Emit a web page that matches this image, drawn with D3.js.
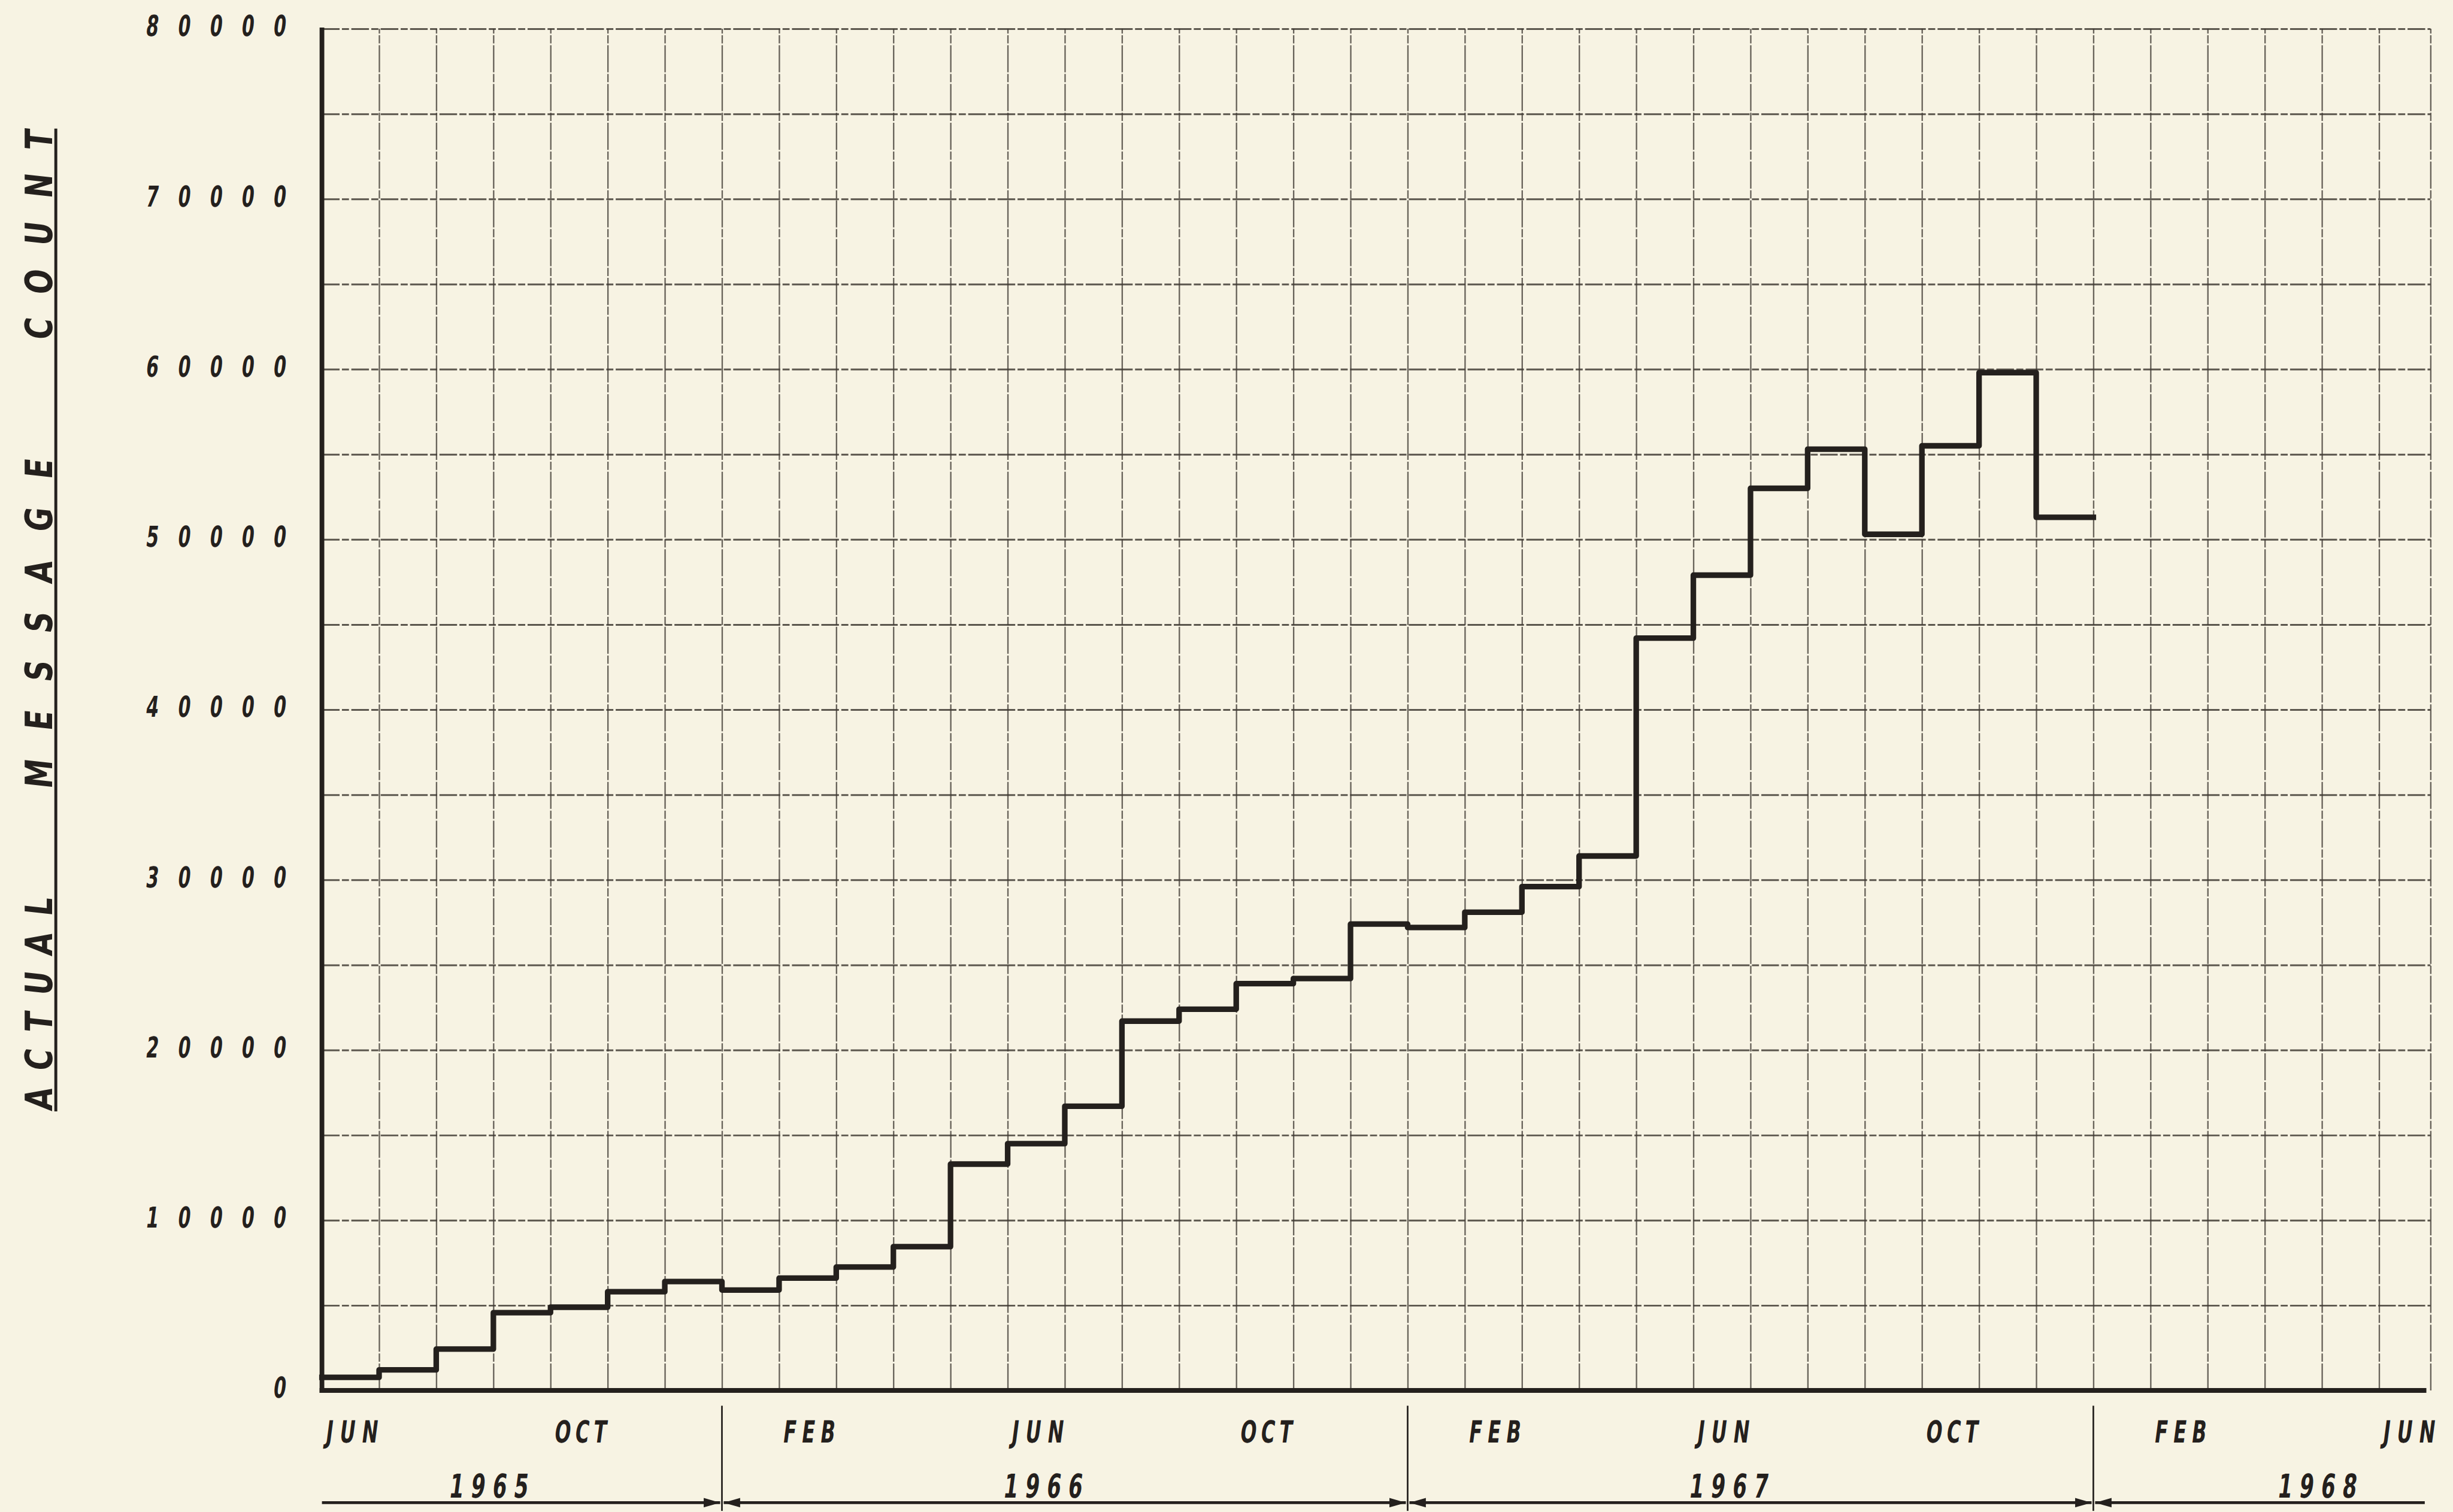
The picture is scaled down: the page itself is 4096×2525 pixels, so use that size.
<!DOCTYPE html>
<html><head><meta charset="utf-8">
<script src="https://cdn.jsdelivr.net/npm/d3@7"></script>
<style>html,body{margin:0;padding:0;background:#f7f3e3;} svg{display:block;}</style>
</head><body>
<svg id="chart" width="4096" height="2525"></svg>
<script>
// ---- data ----
const months = ["Jun 1965","Jul 1965","Aug 1965","Sep 1965","Oct 1965","Nov 1965","Dec 1965",
  "Jan 1966","Feb 1966","Mar 1966","Apr 1966","May 1966","Jun 1966","Jul 1966","Aug 1966","Sep 1966","Oct 1966","Nov 1966","Dec 1966",
  "Jan 1967","Feb 1967","Mar 1967","Apr 1967","May 1967","Jun 1967","Jul 1967","Aug 1967","Sep 1967","Oct 1967","Nov 1967","Dec 1967"];
const messageCounts = [770, 1210, 2430, 4570, 4890, 5800, 6400,
  5900, 6600, 7250, 8450, 13300, 14500, 16700, 21700, 22400, 23900, 24200, 27400,
  27200, 28100, 29600, 31400, 44200, 47900, 53000, 55300, 50300, 55500, 59800, 51300];
const yTickValues = [0, 10000, 20000, 30000, 40000, 50000, 60000, 70000, 80000];
const monthLabels = ["JUN","OCT","FEB","JUN","OCT","FEB","JUN","OCT","FEB","JUN"];
const monthLabelIndex = [0, 4, 8, 12, 16, 20, 24, 28, 32, 36];
const yearLabels = ["1965","1966","1967","1968"];
const yearStartMonth = [0, 7, 19, 31];
const yearLabelMonth = [2.9, 12.6, 24.6, 34.9];
const titleWords = ["ACTUAL","MESSAGE","COUNT"];

// ---- layout ----
const svg = d3.select("#chart");
const root = svg.append("g").attr("transform","scale(0.981)");
root.append("rect").attr("width",4173).attr("height",2572).attr("fill","#f7f3e3");

const x = d3.scaleLinear().domain([0, 36.9]).range([548, 4137]);
const y = d3.scaleLinear().domain([0, 80000]).range([2367, 49]);
const ink = "#24201d";
const gridInk = "#403a33";
const FONT = "'DejaVu Sans', 'Liberation Sans', sans-serif";

// horizontal grid
const hg = root.append("g").attr("transform",`translate(${x(0)},0)`)
  .call(d3.axisLeft(y).tickValues(d3.range(5000, 80001, 5000))
    .tickSize(-(x(x.domain()[1]) - x(0))).tickFormat(""));
hg.select(".domain").remove();
hg.selectAll(".tick line").attr("stroke",gridInk).attr("stroke-width",3)
  .attr("stroke-opacity",0.85).attr("stroke-dasharray","30 4 12 4");

// vertical grid (months)
const vg = root.append("g").attr("transform",`translate(0,${y(0)})`)
  .call(d3.axisBottom(x).tickValues(d3.range(1, 37).concat([x.domain()[1]]))
    .tickSize(-(y(0) - y(80000))).tickFormat(""));
vg.select(".domain").remove();
vg.selectAll(".tick line").attr("stroke",gridInk).attr("stroke-width",2.4)
  .attr("stroke-opacity",0.78).attr("stroke-dasharray","46 3 14 3");

// thick axes
root.append("line").attr("x1",x(0)).attr("x2",x(0)).attr("y1",y(80000)-2).attr("y2",y(0)+4)
  .attr("stroke",ink).attr("stroke-width",8);
root.append("line").attr("x1",x(0)-4).attr("x2",4130).attr("y1",y(0)).attr("y2",y(0))
  .attr("stroke",ink).attr("stroke-width",8);

// step line
const pts = messageCounts.map((v,i)=>[i,v]);
pts.push([messageCounts.length, messageCounts[messageCounts.length-1]]);
const stepLine = d3.line().x(d=>x(d[0])).y(d=>y(d[1])).curve(d3.curveStepAfter);
root.append("path").attr("d",stepLine(pts)).attr("fill","none")
  .attr("stroke",ink).attr("stroke-width",9.5).attr("stroke-linejoin","round").attr("stroke-linecap","square");

// y tick labels
const yl = root.append("g").attr("transform",`translate(${x(0)},0)`)
  .call(d3.axisLeft(y).tickValues(yTickValues).tickSize(0).tickFormat(d3.format("d")));
yl.select(".domain").remove();
const ySx = 0.62;
yl.selectAll(".tick text")
  .attr("x",null).attr("dy",null)
  .attr("transform","translate(-63,12) scale(" + ySx + ",1) skewX(-12)")
  .attr("text-anchor","end")
  .attr("font-size",49).attr("font-weight","bold").attr("font-family",FONT).attr("fill",ink)
  .each(function(d){
    const s = String(d);
    if (s.length > 1) d3.select(this).attr("textLength", 238/ySx).attr("lengthAdjust","spacing");
  });

// month labels
const mSx = 0.62;
const ml = root.append("g").attr("transform",`translate(0,${y(0)})`)
  .call(d3.axisBottom(x).tickValues(monthLabelIndex.map(i=>i+0.5)).tickSize(0)
    .tickFormat((d,i)=>monthLabels[i]));
ml.select(".domain").remove();
ml.selectAll(".tick text").attr("y",null).attr("dy",null)
  .attr("transform","translate(0,89) scale(" + mSx + ",1) skewX(-12)")
  .attr("text-anchor","middle")
  .attr("font-size",52).attr("font-weight","bold").attr("font-family",FONT).attr("fill",ink)
  .attr("textLength",88/mSx).attr("lengthAdjust","spacing");

// year labels
const ySx2 = 0.62;
root.append("g").selectAll("text").data(yearLabels).join("text")
  .attr("transform",(d,i)=>`translate(${x(yearLabelMonth[i])},2549) scale(${ySx2},1) skewX(-12)`)
  .attr("text-anchor","middle")
  .attr("font-size",56).attr("font-weight","bold").attr("font-family",FONT).attr("fill",ink)
  .attr("textLength",134/ySx2).attr("lengthAdjust","spacing")
  .text(d=>d);

// year span arrows
const arrowY = 2558;
const bounds = yearStartMonth.concat([36.8]);
const ag = root.append("g");
yearStartMonth.forEach((s,i)=>{
  const xs = x(s) + (i>0 ? 3 : 0);
  const xe = x(bounds[i+1]) - (i<3 ? 3 : 0);
  ag.append("line").attr("x1",xs).attr("x2",xe).attr("y1",arrowY).attr("y2",arrowY)
    .attr("stroke",ink).attr("stroke-width",5);
  if (i<3) ag.append("path").attr("d",`M${xe},${arrowY} L${xe-28},${arrowY-8} L${xe-28},${arrowY+8} Z`).attr("fill",ink);
  if (i>0) ag.append("path").attr("d",`M${xs},${arrowY} L${xs+28},${arrowY-8} L${xs+28},${arrowY+8} Z`).attr("fill",ink);
});
// year boundary ticks below the plot
ag.selectAll("line.yb").data(yearStartMonth.slice(1)).join("line").attr("class","yb")
  .attr("x1",d=>x(d)).attr("x2",d=>x(d)).attr("y1",2393).attr("y2",2572)
  .attr("stroke",ink).attr("stroke-width",2.8);

// y-axis title (rotated, underlined)
const tSx = 0.78;
const titleStart = [1892, 1344, 580];
const titleLen = [363, 561, 357];
root.append("g").selectAll("text").data(titleWords).join("text")
  .attr("transform",(d,i)=>`translate(89,${titleStart[i]}) rotate(-90) scale(${tSx},1) skewX(-8)`)
  .attr("text-anchor","start")
  .attr("font-size",64).attr("font-weight","bold").attr("font-family",FONT).attr("fill",ink)
  .attr("textLength",(d,i)=>titleLen[i]/tSx).attr("lengthAdjust","spacing")
  .text(d=>d);
root.append("line").attr("x1",95).attr("x2",95).attr("y1",219).attr("y2",1892)
  .attr("stroke",ink).attr("stroke-width",5);
</script>
</body></html>
